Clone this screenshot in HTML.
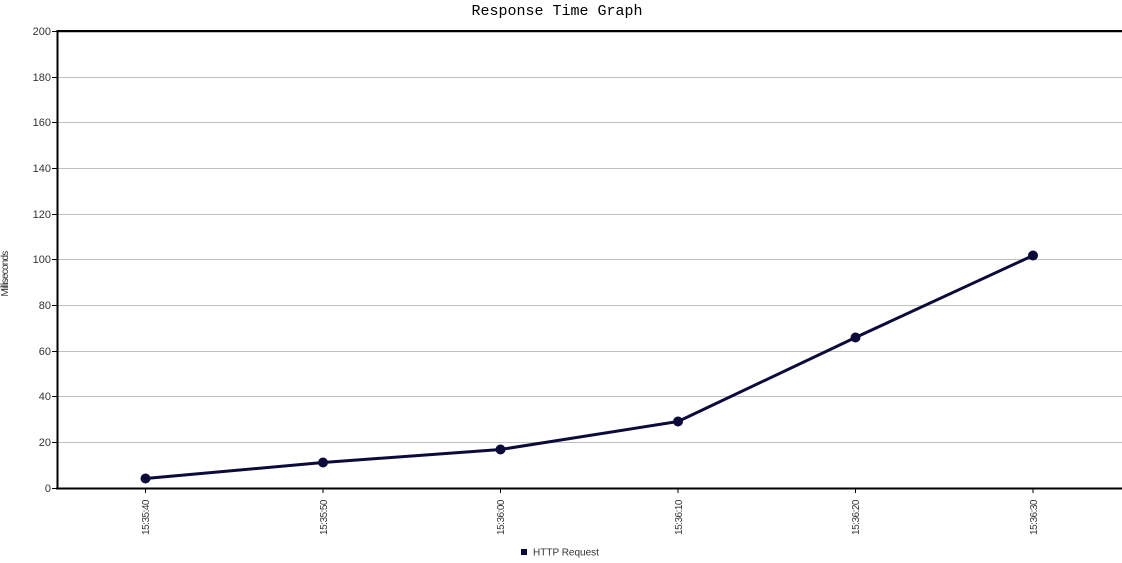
<!DOCTYPE html>
<html><head><meta charset="utf-8"><style>
html,body{margin:0;padding:0;background:#fff;}
svg{display:block;}
text{font-family:"Liberation Sans",sans-serif;fill:#333;}
</style></head><body>
<svg width="1122" height="563" viewBox="0 0 1122 563" xmlns="http://www.w3.org/2000/svg">
<rect width="1122" height="563" fill="#fff"/>
<text x="557" y="15" text-anchor="middle" style="font-family:'Liberation Mono',monospace;font-size:15px;fill:#000">Response Time Graph</text>
<g stroke="#c0c0c0" stroke-width="1">
<line x1="57" y1="442.5" x2="1122" y2="442.5"/>
<line x1="57" y1="396.5" x2="1122" y2="396.5"/>
<line x1="57" y1="351.5" x2="1122" y2="351.5"/>
<line x1="57" y1="305.5" x2="1122" y2="305.5"/>
<line x1="57" y1="259.5" x2="1122" y2="259.5"/>
<line x1="57" y1="214.5" x2="1122" y2="214.5"/>
<line x1="57" y1="168.5" x2="1122" y2="168.5"/>
<line x1="57" y1="122.5" x2="1122" y2="122.5"/>
<line x1="57" y1="77.5" x2="1122" y2="77.5"/>
<line x1="57" y1="32.5" x2="1122" y2="32.5"/>
</g>
<g stroke="#000" stroke-width="1">
<line x1="52" y1="488.5" x2="57" y2="488.5"/>
<line x1="52" y1="442.5" x2="57" y2="442.5"/>
<line x1="52" y1="396.5" x2="57" y2="396.5"/>
<line x1="52" y1="351.5" x2="57" y2="351.5"/>
<line x1="52" y1="305.5" x2="57" y2="305.5"/>
<line x1="52" y1="259.5" x2="57" y2="259.5"/>
<line x1="52" y1="214.5" x2="57" y2="214.5"/>
<line x1="52" y1="168.5" x2="57" y2="168.5"/>
<line x1="52" y1="122.5" x2="57" y2="122.5"/>
<line x1="52" y1="77.5" x2="57" y2="77.5"/>
<line x1="52" y1="31.5" x2="57" y2="31.5"/>
<line x1="145.5" y1="488" x2="145.5" y2="493"/>
<line x1="323" y1="488" x2="323" y2="493"/>
<line x1="500.5" y1="488" x2="500.5" y2="493"/>
<line x1="678" y1="488" x2="678" y2="493"/>
<line x1="855.5" y1="488" x2="855.5" y2="493"/>
<line x1="1033" y1="488" x2="1033" y2="493"/>
</g>
<line x1="57" y1="31" x2="1122" y2="31" stroke="#000" stroke-width="2"/>
<line x1="57.5" y1="30" x2="57.5" y2="489" stroke="#000" stroke-width="2"/>
<line x1="56" y1="488.5" x2="1122" y2="488.5" stroke="#000" stroke-width="2"/>
<g font-size="11" text-anchor="end">
<text x="51" y="492">0</text>
<text x="51" y="446">20</text>
<text x="51" y="400">40</text>
<text x="51" y="355">60</text>
<text x="51" y="309">80</text>
<text x="51" y="263">100</text>
<text x="51" y="218">120</text>
<text x="51" y="172">140</text>
<text x="51" y="126">160</text>
<text x="51" y="81">180</text>
<text x="51" y="35">200</text>
</g>
<text transform="translate(8,274) rotate(-90)" text-anchor="middle" font-size="10" letter-spacing="-0.8">Milliseconds</text>
<g font-size="10" text-anchor="end" letter-spacing="-0.5">
<text transform="translate(149,500) rotate(-90)">15:35:40</text>
<text transform="translate(327,500) rotate(-90)">15:35:50</text>
<text transform="translate(504,500) rotate(-90)">15:36:00</text>
<text transform="translate(682,500) rotate(-90)">15:36:10</text>
<text transform="translate(859,500) rotate(-90)">15:36:20</text>
<text transform="translate(1037,500) rotate(-90)">15:36:30</text>
</g>
<polyline points="145.5,478.5 323,462.5 500.5,449.5 678,421.5 855.5,337.5 1033,255.5" fill="none" stroke="#0c0a3a" stroke-width="3" stroke-linejoin="round"/>
<g fill="#0c0a3a">
<circle cx="145.5" cy="478.5" r="5"/>
<circle cx="323" cy="462.5" r="5"/>
<circle cx="500.5" cy="449.5" r="5"/>
<circle cx="678" cy="421.5" r="5"/>
<circle cx="855.5" cy="337.5" r="5"/>
<circle cx="1033" cy="255.5" r="5"/>
</g>
<rect x="521" y="549" width="6" height="6" fill="#0c0a3a"/>
<text x="533" y="555.5" font-size="10">HTTP Request</text>
</svg>
</body></html>
